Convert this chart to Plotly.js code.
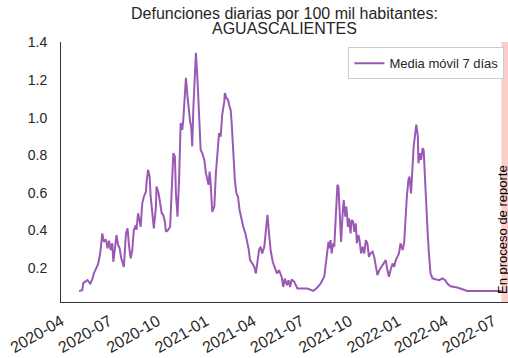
<!DOCTYPE html>
<html>
<head>
<meta charset="utf-8">
<script src="https://cdn.plot.ly/plotly-3.0.1.min.js"></script>
<style>html,body{margin:0;padding:0;background:#fff;}#chart{width:508px;height:358px;}</style>
</head>
<body>
<div id="chart"></div>
<script>
const dates = [
'2020-05-05','2020-05-11','2020-05-13','2020-05-21','2020-05-26','2020-05-30','2020-06-02','2020-06-06','2020-06-10','2020-06-14',
'2020-06-18','2020-06-21','2020-06-25','2020-06-28','2020-07-01','2020-07-04','2020-07-07','2020-07-09','2020-07-12','2020-07-15',
'2020-07-18','2020-07-21','2020-07-24','2020-07-29','2020-08-02','2020-08-05','2020-08-08','2020-08-11','2020-08-14','2020-08-17',
'2020-08-21','2020-08-22','2020-08-25','2020-08-28','2020-08-30','2020-09-02','2020-09-05','2020-09-09','2020-09-10','2020-09-13',
'2020-09-16','2020-09-18','2020-09-21','2020-09-24','2020-09-28','2020-09-29','2020-10-03','2020-10-06','2020-10-09','2020-10-12',
'2020-10-15','2020-10-17','2020-10-21','2020-10-25','2020-10-27','2020-10-31','2020-11-03','2020-11-05','2020-11-08','2020-11-11',
'2020-11-14','2020-11-17','2020-11-19','2020-11-22','2020-11-24','2020-11-27','2020-11-29','2020-12-02','2020-12-04','2020-12-06',
'2020-12-08','2020-12-10','2020-12-11','2020-12-13','2020-12-16','2020-12-18','2020-12-20','2020-12-22','2020-12-25','2020-12-29',
'2021-01-01','2021-01-04','2021-01-06','2021-01-08','2021-01-10','2021-01-13','2021-01-17','2021-01-20','2021-01-23','2021-01-26',
'2021-01-29','2021-02-01','2021-02-05','2021-02-06','2021-02-09','2021-02-12','2021-02-15','2021-02-17','2021-02-19','2021-02-22',
'2021-02-25','2021-02-28','2021-03-03','2021-03-06','2021-03-10','2021-03-13','2021-03-17','2021-03-20','2021-03-23','2021-03-26',
'2021-03-30','2021-04-03','2021-04-06','2021-04-09','2021-04-12','2021-04-15','2021-04-18','2021-04-22','2021-04-25','2021-04-28',
'2021-05-01','2021-05-04','2021-05-08','2021-05-12','2021-05-16','2021-05-20',
'2021-05-25','2021-05-28','2021-05-31','2021-06-04','2021-06-07','2021-06-10','2021-06-13','2021-06-18','2021-06-22','2021-06-24',
'2021-07-13','2021-07-24','2021-07-30','2021-08-07','2021-08-14','2021-08-17','2021-08-20','2021-08-22','2021-08-24','2021-08-26',
'2021-08-28','2021-08-31','2021-09-02','2021-09-05','2021-09-08','2021-09-10','2021-09-12','2021-09-15','2021-09-18','2021-09-20',
'2021-09-23','2021-09-25','2021-09-28','2021-09-30','2021-10-03','2021-10-05','2021-10-08','2021-10-10','2021-10-13','2021-10-15',
'2021-10-18','2021-10-20','2021-10-23','2021-10-26','2021-10-29','2021-11-01','2021-11-04','2021-11-07','2021-11-10','2021-11-14',
'2021-11-17','2021-11-20','2021-11-23','2021-11-27','2021-12-01','2021-12-06','2021-12-09','2021-12-12','2021-12-15','2021-12-18',
'2021-12-22','2021-12-25','2021-12-28','2021-12-31','2022-01-03','2022-01-06','2022-01-10','2022-01-13','2022-01-15','2022-01-18',
'2022-01-21','2022-01-23','2022-01-26','2022-01-29','2022-01-31','2022-02-03','2022-02-05','2022-02-08','2022-02-09','2022-02-12',
'2022-02-14','2022-02-17','2022-02-19','2022-02-22','2022-02-24','2022-02-27','2022-03-01','2022-03-04','2022-03-08','2022-03-14',
'2022-03-20','2022-03-27','2022-04-01','2022-04-05','2022-04-11','2022-04-24','2022-05-13','2022-06-11','2022-07-17'
];

const mediaMovil7 = [
0.079,0.083,0.122,0.136,0.118,0.140,0.172,0.198,0.221,0.278,
0.385,0.340,0.353,0.305,0.346,0.296,0.332,0.234,0.296,0.376,
0.323,0.305,0.252,0.207,0.385,0.412,0.314,0.252,0.296,0.403,
0.429,0.403,0.492,0.447,0.420,0.545,0.580,0.607,0.652,0.723,
0.687,0.580,0.474,0.412,0.527,0.634,0.598,0.536,0.492,0.483,
0.447,0.394,0.403,0.420,0.580,0.812,0.794,0.598,0.474,0.669,
0.972,0.936,0.989,1.096,1.212,1.114,1.052,0.980,0.954,0.847,
1.043,1.158,1.203,1.345,1.203,1.060,0.954,0.829,0.812,0.776,
0.705,0.669,0.643,0.714,0.652,0.500,0.527,0.705,0.829,0.918,
0.900,1.016,1.087,1.132,1.105,1.096,1.060,1.043,0.972,0.829,
0.669,0.598,0.580,0.509,0.447,0.420,0.385,0.349,0.305,0.243,
0.221,0.207,0.172,0.243,0.296,0.314,0.278,0.314,0.403,0.483,
0.385,0.296,0.234,0.207,0.172,0.190,
0.154,0.100,0.145,0.109,0.136,0.100,0.140,0.127,0.100,0.092,
0.092,0.079,0.092,0.118,0.154,0.216,0.278,0.340,0.305,0.349,
0.278,0.332,0.314,0.456,0.643,0.634,0.492,0.340,0.492,0.563,
0.474,0.527,0.420,0.465,0.385,0.456,0.447,0.394,0.438,0.332,
0.376,0.349,0.278,0.314,0.278,0.349,0.332,0.260,0.278,0.287,
0.260,0.207,0.163,0.190,0.207,0.234,0.243,0.190,0.154,0.190,
0.225,0.207,0.243,0.260,0.278,0.332,0.296,0.340,0.474,0.580,
0.669,0.687,0.598,0.740,0.847,0.918,0.963,0.900,0.758,0.812,
0.776,0.838,0.829,0.652,0.492,0.367,0.278,0.172,0.145,0.140,
0.136,0.145,0.136,0.118,0.104,0.097,0.079,0.079,0.079
];

const yTicks = [0.2, 0.4, 0.6, 0.8, 1.0, 1.2, 1.4];
const yTickText = ['0.2', '0.4', '0.6', '0.8', '1.0', '1.2', '1.4'];
const seriesName = 'Media móvil 7 días';
const titleLines = ['Defunciones diarias por 100 mil habitantes:', 'AGUASCALIENTES'];
const bandStart = '2022-07-17';
const bandEnd = '2022-07-31';
const bandLabel = 'En proceso de reporte';
const xRange = ['2020-03-31 12:00', '2022-07-29 08:00'];

const FONT = 'Liberation Sans, Arial, sans-serif';
const INK = '#262626';

const trace = {
  x: dates, y: mediaMovil7, type: 'scatter', mode: 'lines', name: seriesName,
  line: {color: '#9b59b6', width: 2}, showlegend: true
};

const layout = {
  width: 508, height: 358,
  margin: {l: 61, r: 0, t: 42, b: 56, pad: 0},
  paper_bgcolor: '#fff', plot_bgcolor: '#fff',
  font: {family: FONT, color: INK, size: 13},
  xaxis: {
    type: 'date', range: xRange, tick0: '2020-04-01', dtick: 'M3', tickformat: '%Y-%m',
    tickangle: -30, showgrid: false, zeroline: false, showline: true, linecolor: '#333', linewidth: 1,
    ticks: '', tickfont: {family: FONT, size: 16, color: INK}, ticklabelstandoff: 3
  },
  yaxis: {
    range: [0.02, 1.403], tickvals: yTicks, ticktext: yTickText, showgrid: false, zeroline: false,
    showline: true, linecolor: '#333', linewidth: 1, ticks: '', ticklabelstandoff: 10,
    tickfont: {family: FONT, size: 14, color: INK}
  },
  legend: {x: 0.992, xanchor: 'right', y: 0.98, yanchor: 'top', bgcolor: '#fff',
           bordercolor: '#cccccc', borderwidth: 1, font: {family: FONT, size: 13, color: INK},
           itemwidth: 30, tracegroupgap: 0},
  shapes: [{type: 'rect', xref: 'x', yref: 'paper', x0: bandStart, x1: bandEnd, y0: 0, y1: 1,
            fillcolor: 'rgba(255,0,0,0.2)', line: {width: 0}, layer: 'below'}],
  annotations: [
    {text: titleLines[0], xref: 'paper', yref: 'paper', x: 0.5, y: 1.1115, xanchor: 'center', yanchor: 'middle',
     showarrow: false, font: {family: FONT, size: 16, color: INK}},
    {text: titleLines[1], xref: 'paper', yref: 'paper', x: 0.5, y: 1.0527, xanchor: 'center', yanchor: 'middle',
     showarrow: false, font: {family: FONT, size: 16, color: INK}},
    {text: bandLabel, xref: 'x', yref: 'paper', x: '2022-07-17 22:00', y: 0.025,
     xanchor: 'center', yanchor: 'bottom', textangle: -90, showarrow: false,
     font: {family: FONT, size: 13, color: '#000'}}
  ]
};

Plotly.newPlot('chart', [trace], layout, {staticPlot: true, displayModeBar: false});
</script>
</body>
</html>
